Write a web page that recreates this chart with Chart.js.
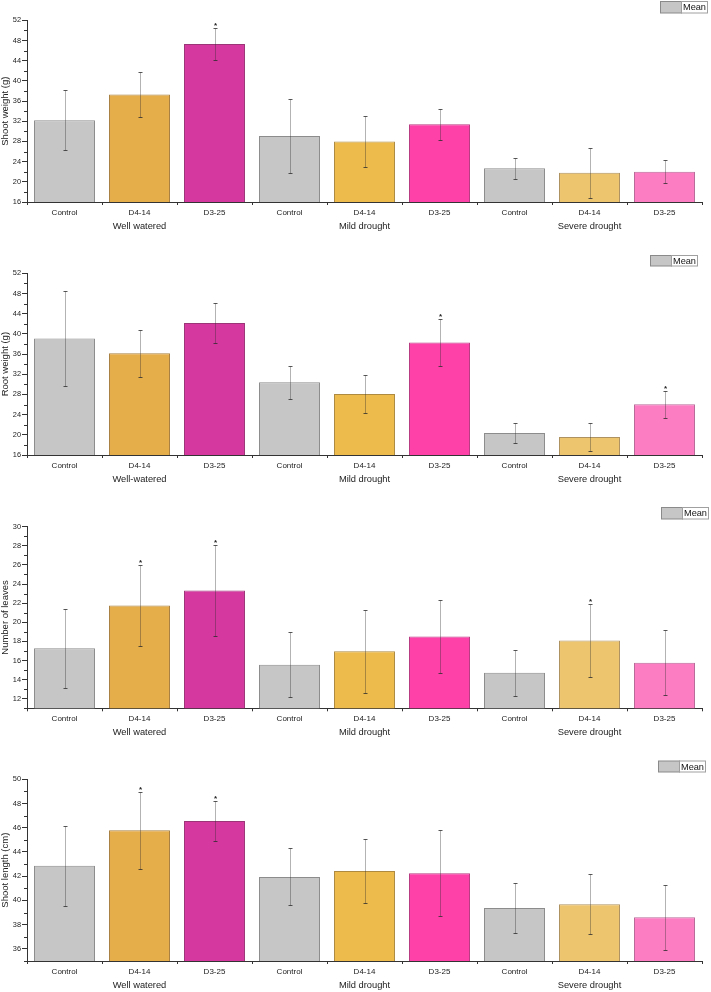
<!DOCTYPE html>
<html><head><meta charset="utf-8">
<script src="https://cdn.jsdelivr.net/npm/chart.js@4/dist/chart.umd.min.js"></script>
<style>
html,body{margin:0;padding:0;background:#fff;}
body{width:711px;height:992px;position:relative;overflow:hidden;}
canvas{position:absolute;left:0;}
</style></head><body>
<canvas id="c1" width="711" height="240" style="top:0px"></canvas>
<canvas id="c2" width="711" height="250" style="top:240px"></canvas>
<canvas id="c3" width="711" height="250" style="top:490px"></canvas>
<canvas id="c4" width="711" height="252" style="top:740px"></canvas>
<script>
// ---------- data ----------
const categories = ['Control','D4-14','D3-25','Control','D4-14','D3-25','Control','D4-14','D3-25'];
const groupsA = ['Well watered','Mild drought','Severe drought'];
const groupsB = ['Well-watered','Mild drought','Severe drought'];

const shootWeight    = [32.2, 37.3, 47.3, 29.1, 28.0, 31.4, 22.7, 21.8, 22.0];
const shootWeightErr = [5.95, 4.55, 3.25, 7.3, 5.05, 3.1, 2.1, 4.95, 2.25];
const shootWeightSig = [0,0,1,0,0,0,0,0,0];
const shootWeightTicks = [16,20,24,28,32,36,40,44,48,52];

const rootWeight    = [39.1, 36.15, 42.15, 30.4, 28.1, 38.3, 20.35, 19.55, 26.05];
const rootWeightErr = [9.45, 4.6, 3.9, 3.3, 3.75, 4.6, 1.9, 2.8, 2.65];
const rootWeightSig = [0,0,0,0,0,1,0,0,1];
const rootWeightTicks = [16,20,24,28,32,36,40,44,48,52];

const leaves    = [17.27, 21.75, 23.33, 15.56, 16.96, 18.5, 14.72, 18.1, 15.77];
const leavesErr = [4.15, 4.25, 4.75, 3.4, 4.35, 3.85, 2.4, 3.8, 3.43];
const leavesSig = [0,1,1,0,0,0,0,1,0];
const leavesTicks = [12,14,16,18,20,22,24,26,28,30];

const shootLength    = [42.87, 45.79, 46.56, 41.94, 42.43, 42.24, 39.38, 39.69, 38.61];
const shootLengthErr = [3.3, 3.18, 1.65, 2.35, 2.63, 3.55, 2.1, 2.48, 2.7];
const shootLengthSig = [0,1,1,0,0,0,0,0,0];
const shootLengthTicks = [36,38,40,42,44,46,48,50];

// ---------- styles ----------
const barColors  = ['#c6c6c6','#e6ad4b','#d5399f','#c6c6c6','#edbb4c','#fd41a9','#c6c6c6','#eec56f','#fd7dc3'];
const barBorders = ['#8c8c8c','#a88040','#9c3478','#8c8c8c','#ad8a40','#b83a80','#8c8c8c','#ae9260','#b86a98'];
const FONT = "'Liberation Sans', Arial, sans-serif";

const extras = {
  id: 'extras',
  afterDatasetsDraw(chart, args, o) {
    const ctx = chart.ctx, xs = chart.scales.x, ys = chart.scales.y, ca = chart.chartArea;
    const vals = chart.data.datasets[0].data;
    ctx.save();
    // error bars
    vals.forEach((v, i) => {
      const px = Math.round(xs.getPixelForValue(i)) + 0.5;
      const top = Math.round(ys.getPixelForValue(v + o.errors[i])) + 0.5;
      const bot = Math.round(ys.getPixelForValue(v - o.errors[i])) + 0.5;
      ctx.lineWidth = 1;
      ctx.strokeStyle = 'rgba(45,45,45,0.36)';
      ctx.beginPath(); ctx.moveTo(px, top); ctx.lineTo(px, bot); ctx.stroke();
      ctx.strokeStyle = 'rgba(45,45,45,0.8)';
      ctx.beginPath();
      ctx.moveTo(px - 2, top); ctx.lineTo(px + 2, top);
      ctx.moveTo(px - 2, bot); ctx.lineTo(px + 2, bot);
      ctx.stroke();
      if (o.sig[i]) {
        ctx.fillStyle = '#222';
        ctx.font = 'bold 8px ' + FONT;
        ctx.textAlign = 'center';
        ctx.textBaseline = 'alphabetic';
        ctx.fillText('*', px, top - 1);
      }
    });
    // minor y ticks
    ctx.strokeStyle = '#333';
    ctx.lineWidth = 1;
    ctx.beginPath();
    const t = o.ticks, step = t[1] - t[0];
    for (let v = t[0] - step / 2; v <= t[t.length - 1]; v += step) {
      if (v < ys.min - 1e-9) continue;
      const py = Math.round(ys.getPixelForValue(v)) + 0.5;
      ctx.moveTo(ca.left - 3, py); ctx.lineTo(ca.left, py);
    }
    ctx.stroke();
    // group labels
    ctx.fillStyle = '#222';
    ctx.font = '9.3px ' + FONT;
    ctx.textAlign = 'center';
    ctx.textBaseline = 'middle';
    o.groups.forEach((g, k) => {
      const gx = xs.getPixelForValue(k * 3 + 1);
      ctx.fillText(g, gx, ca.bottom + 24);
    });
    // legend
    const L = o.legend;
    const lx = L.x + 0.5, ly = L.y + 0.5;
    ctx.fillStyle = '#c6c6c6';
    ctx.fillRect(lx, ly, 21, L.h);
    ctx.strokeStyle = '#8a8a8a';
    ctx.strokeRect(lx, ly, 21, L.h);
    ctx.fillStyle = '#fff';
    ctx.fillRect(lx + 21, ly, L.w - 21, L.h);
    ctx.strokeStyle = '#a0a0a0';
    ctx.strokeRect(lx + 21, ly, L.w - 21, L.h);
    ctx.fillStyle = '#111';
    ctx.font = '9.2px ' + FONT;
    ctx.textAlign = 'left';
    ctx.textBaseline = 'middle';
    ctx.fillText('Mean', lx + 22.5, ly + L.h / 2 + 0.5);
    ctx.restore();
  }
};

function makeChart(id, values, errors, sig, ticks, min, max, title, groups, areaTop, areaBottom, H, legend) {
  return new Chart(document.getElementById(id), {
    type: 'bar',
    data: {
      labels: categories,
      datasets: [{
        label: 'Mean',
        data: values,
        backgroundColor: barColors,
        borderColor: barBorders,
        borderWidth: 1,
        categoryPercentage: 1,
        barPercentage: 0.813
      }]
    },
    options: {
      responsive: false,
      animation: false,
      devicePixelRatio: 1,
      layout: { padding: { top: areaTop, right: 9, left: 0, bottom: 0 } },
      plugins: {
        legend: { display: false },
        tooltip: { enabled: false },
        extras: { errors, sig, ticks, groups, legend }
      },
      scales: {
        x: {
          offset: true,
          afterFit: s => { s.height = H - areaBottom; },
          ticks: { font: { size: 8, family: FONT }, color: '#222', padding: 3, maxRotation: 0, autoSkip: false },
          grid: { offset: true, drawOnChartArea: false, tickLength: 3, tickColor: '#333', color: '#333' },
          border: { color: '#333', width: 1 }
        },
        y: {
          min, max,
          afterBuildTicks: s => { s.ticks = ticks.map(v => ({ value: v })); },
          afterFit: s => { s.width = 27; },
          ticks: { font: { size: 7.4, family: FONT }, color: '#222', padding: 1 },
          grid: { drawOnChartArea: false, tickLength: 5, tickColor: '#333', color: '#333' },
          border: { color: '#333', width: 1 },
          title: { display: true, text: title, font: { size: 9.5, family: FONT }, color: '#222', padding: { top: 0, bottom: 0 } }
        }
      }
    },
    plugins: [extras]
  });
}

makeChart('c1', shootWeight, shootWeightErr, shootWeightSig, shootWeightTicks, 16, 52, 'Shoot weight (g)', groupsA, 20.3, 202, 240, { x: 660, y: 1, w: 47, h: 11.5 });
makeChart('c2', rootWeight, rootWeightErr, rootWeightSig, rootWeightTicks, 16, 52, 'Root weight (g)', groupsB, 33.3, 215, 250, { x: 650, y: 15, w: 47, h: 10.5 });
makeChart('c3', leaves, leavesErr, leavesSig, leavesTicks, 11, 30, 'Number of leaves', groupsA, 36.7, 218.3, 250, { x: 661, y: 17, w: 47, h: 11.5 });
makeChart('c4', shootLength, shootLengthErr, shootLengthSig, shootLengthTicks, 35, 50, 'Shoot length (cm)', groupsA, 39.3, 221, 252, { x: 658, y: 20.5, w: 47, h: 11 });
</script>
</body></html>
